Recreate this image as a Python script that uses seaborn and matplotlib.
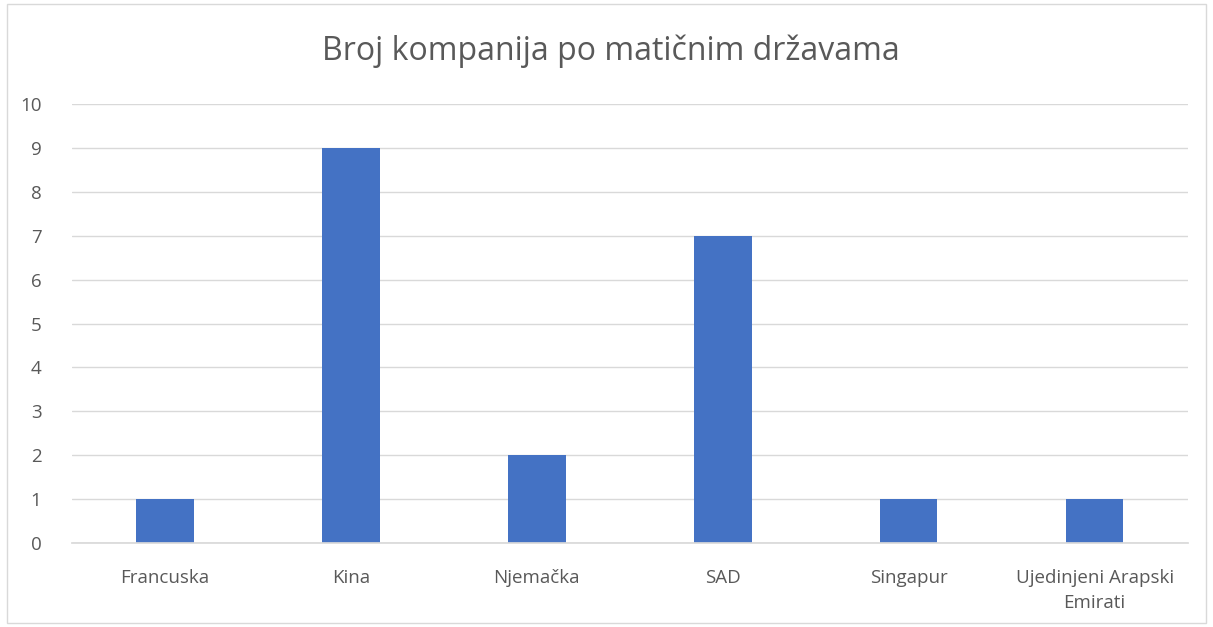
import matplotlib
matplotlib.use('Agg')
import matplotlib.pyplot as plt
import seaborn as sns
import pandas as pd
from matplotlib.patches import Rectangle

# Data
countries = ['Francuska', 'Kina', 'Njemačka', 'SAD', 'Singapur', 'Ujedinjeni Arapski\nEmirati']
counts = [1, 9, 2, 7, 1, 1]

df = pd.DataFrame({'country': countries, 'count': counts})

sns.set_theme(style='white')
plt.rcParams['font.family'] = ['Open Sans', 'DejaVu Sans']

text_color = '#595959'
grid_color = '#D9D9D9'
bar_color = '#4472C4'

fig = plt.figure(figsize=(12.13, 6.27), dpi=100)
ax = fig.add_axes([0.0594, 0.134, 0.9196, 0.700])

sns.barplot(data=df, x='country', y='count', color=bar_color, width=0.31,
            saturation=1, linewidth=0, ax=ax, zorder=3)

ax.set_ylim(0, 10)
ax.set_yticks(range(0, 11))
ax.set_xlim(-0.5, len(countries) - 0.5)
ax.grid(axis='y', color=grid_color, linewidth=1, zorder=0)
ax.grid(axis='x', visible=False)
for side in ['top', 'right', 'left']:
    ax.spines[side].set_visible(False)
ax.spines['bottom'].set_color(grid_color)
ax.spines['bottom'].set_zorder(4)

ax.set_xlabel('')
ax.set_ylabel('')
ax.tick_params(axis='both', length=0, labelsize=13.5, colors=text_color)
ax.tick_params(axis='y', pad=22)
ax.tick_params(axis='x', pad=19)
for lbl in ax.get_yticklabels():
    lbl.set_horizontalalignment('right')
for lbl in ax.get_xticklabels():
    lbl.set_linespacing(1.45)

fig.text(0.504, 0.918, 'Broj kompanija po matičnim državama',
         ha='center', va='center', fontsize=23, color=text_color)

# light frame around the chart area
fig.patches.append(Rectangle((0.006, 0.006), 0.988, 0.988, transform=fig.transFigure,
                             fill=False, edgecolor=grid_color, linewidth=1))

fig.savefig('out.png', dpi=100)
